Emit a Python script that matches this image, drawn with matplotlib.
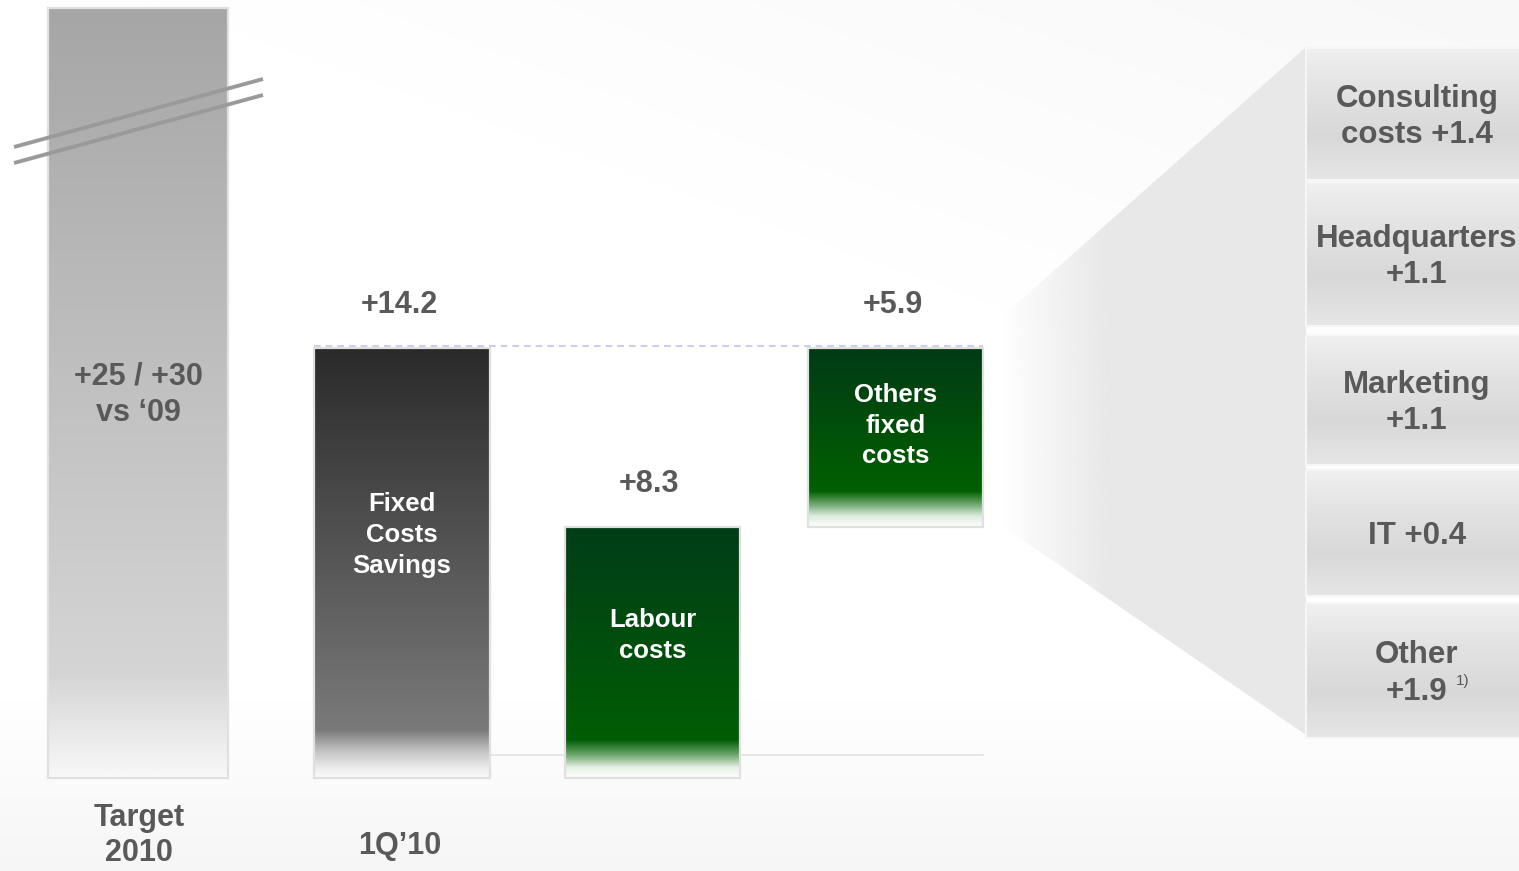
import numpy as np
import matplotlib
matplotlib.use('Agg')
import matplotlib.pyplot as plt
from matplotlib.colors import LinearSegmentedColormap, to_rgb
from matplotlib.patches import Rectangle, Polygon

plt.rcParams['font.family'] = ['Liberation Sans', 'DejaVu Sans']
plt.rcParams['font.weight'] = 'bold'

# dados do gráfico
target_range = (25, 30)
target_label = '+25 / +30\nvs \u201809'
step_names = ['Fixed\nCosts\nSavings', 'Labour\ncosts', 'Others\nfixed\ncosts']
step_values = [14.2, 8.3, 5.9]
step_bottoms = [0, 0, 8.3]
x_labels = ['Target\n2010', '1Q\u201910']
detail_names = ['Consulting\ncosts', 'Headquarters', 'Marketing', 'IT', 'Other']
detail_seps = [' ', '\n', '\n', ' ', '\n']
detail_values = [1.4, 1.1, 1.1, 0.4, 1.9]

# layout (pixels)
W, H = 1519, 871
BASE = 778.0
PX = 30.3
TXT = '#595959'

def yv(px):
    return (BASE - px) / PX

fig = plt.figure(figsize=(W / 100, H / 100), dpi=100)

# --- fundo e painel direito (coordenadas em pixels)
bg = fig.add_axes([0, 0, 1, 1])
bg.set_xlim(0, W)
bg.set_ylim(H, 0)
bg.axis('off')
bg.set_autoscale_on(False)

yy, xx = np.mgrid[0:H:4, 0:W:4]
shade = 0.035 * np.clip((yy - 700) / 171, 0, 1)
shade += 0.03 * np.clip((xx / W - yy / H * 1.6 - 0.1), 0, 1)
img = np.dstack([1 - shade] * 3)
bg.imshow(img, extent=(0, W, H, 0), aspect='auto', zorder=0, interpolation='bilinear')

# funil
funnel = Polygon([(985, 332), (1306, 47), (1306, 735), (985, 514)], closed=True,
                 facecolor='none', edgecolor='none')
bg.add_patch(funnel)
fx = np.linspace(0, 1, 200)
alpha = np.clip((fx * (1306 - 985) - 15) / 110, 0, 1)
frgba = np.zeros((2, 200, 4))
frgba[..., :3] = to_rgb('#e8e8e8')
frgba[..., 3] = alpha
fim = bg.imshow(frgba, extent=(985, 1306, 735, 47), aspect='auto', zorder=1,
                interpolation='bilinear')
fim.set_clip_path(funnel)

# caixas do detalhamento
boxes = [(48, 180), (182, 326), (335, 465), (470, 596), (603, 738)]
box_cmap = LinearSegmentedColormap.from_list('box', ['#f0f0f0', '#e2e2e2', '#d8d8d8', '#e6e6e6'])
for (t, b), name, sep, v in zip(boxes, detail_names, detail_seps, detail_values):
    g = np.linspace(0, 1, 128).reshape(-1, 1)
    bg.imshow(g, cmap=box_cmap, extent=(1306, W + 5, b, t), origin='upper',
              aspect='auto', zorder=2, interpolation='bilinear')
    bg.add_patch(Rectangle((1306, t), W - 1300, b - t, fill=False, ec='#f6f6f6', lw=1.5, zorder=3))
    bg.text(1417, (t + b) / 2 + 3, f'{name}{sep}+{v}', ha='center', va='center',
            fontsize=22.5, color=TXT, linespacing=1.3, zorder=4)
bg.text(1456, 681, '1)', fontsize=11, color=TXT, fontweight='normal', va='center', zorder=4)

# --- barras (eixo y em valores)
ax = fig.add_axes([0, 0, 1, 1])
ax.patch.set_alpha(0)
ax.axis('off')
ax.set_xlim(0, W)
y_top = yv(0)
ax.set_ylim(yv(H), y_top)
ax.set_autoscale_on(False)

def grad_bar(x0, x1, y0, y1, stops, z=3):
    cmap = LinearSegmentedColormap.from_list('g', stops)
    g = np.linspace(0, 1, 256).reshape(-1, 1)
    ax.imshow(g, cmap=cmap, extent=(x0, x1, y0, y1), origin='lower',
              aspect='auto', zorder=z, interpolation='bilinear')
    ax.add_patch(Rectangle((x0, y0), x1 - x0, y1 - y0, fill=False,
                           ec='#e0e0e0', lw=1.6, zorder=z + 0.1))

bar_x = [(48, 228), (314, 490), (565, 740), (808, 983)]
bar_stops = [
    [(0, '#f8f8f8'), (0.03, '#f0f0f0'), (0.13, '#d5d5d5'), (1, '#a6a6a6')],
    [(0, '#fafafa'), (0.02, '#eeeeee'), (0.06, '#c4c4c4'), (0.11, '#7a7a7a'), (1, '#2a2a2a')],
    [(0, '#ffffff'), (0.04, '#e6f0e6'), (0.09, '#6fa86f'), (0.15, '#005d05'), (1, '#003d18')],
    [(0, '#ffffff'), (0.06, '#dcebdc'), (0.14, '#5a9a5a'), (0.2, '#006000'), (1, '#003a16')],
]

# linhas guia
ax.plot([490, 983], [0.76, 0.76], color='#e2e2e2', lw=1.2, zorder=1)
ax.plot([314, 983], [step_values[0] + 0.06] * 2, color='#c4c4ea', lw=1.2,
        ls=(0, (4, 3)), zorder=2)

# meta 2010 (barra quebrada)
t_top = min(target_range[1], y_top - 0.27)
x0, x1 = bar_x[0]
grad_bar(x0, x1, 0, t_top, bar_stops[0])
ax.text((x0 + x1) / 2, 12.64, target_label, ha='center', va='center', fontsize=22,
        color=TXT, linespacing=1.3, zorder=5)
for dy in (0, 16):
    ax.plot([14, 263], [yv(147 + dy), yv(79 + dy)], color='#9a9a9a', lw=2.8,
            solid_capstyle='butt', zorder=6)

# passos
for (x0, x1), st, name, v, b in zip(bar_x[1:], bar_stops[1:], step_names, step_values, step_bottoms):
    top = b + v
    grad_bar(x0, x1, b, top, st)
    cx = (x0 + x1) / 2
    ax.text(cx, (b + 0.13 * v + top) / 2, name, ha='center', va='center', fontsize=18.5,
            color='white', linespacing=1.36, zorder=5)
    ax.text(cx - 3, top + 1.4, f'+{v}', ha='center', va='center', fontsize=22,
            color=TXT, zorder=5)

ax.text(139, -1.9, x_labels[0], ha='center', va='center', fontsize=22, color=TXT,
        linespacing=1.25)
ax.text(400, -2.24, x_labels[1], ha='center', va='center', fontsize=22, color=TXT)

fig.savefig('out.png', dpi=100)
